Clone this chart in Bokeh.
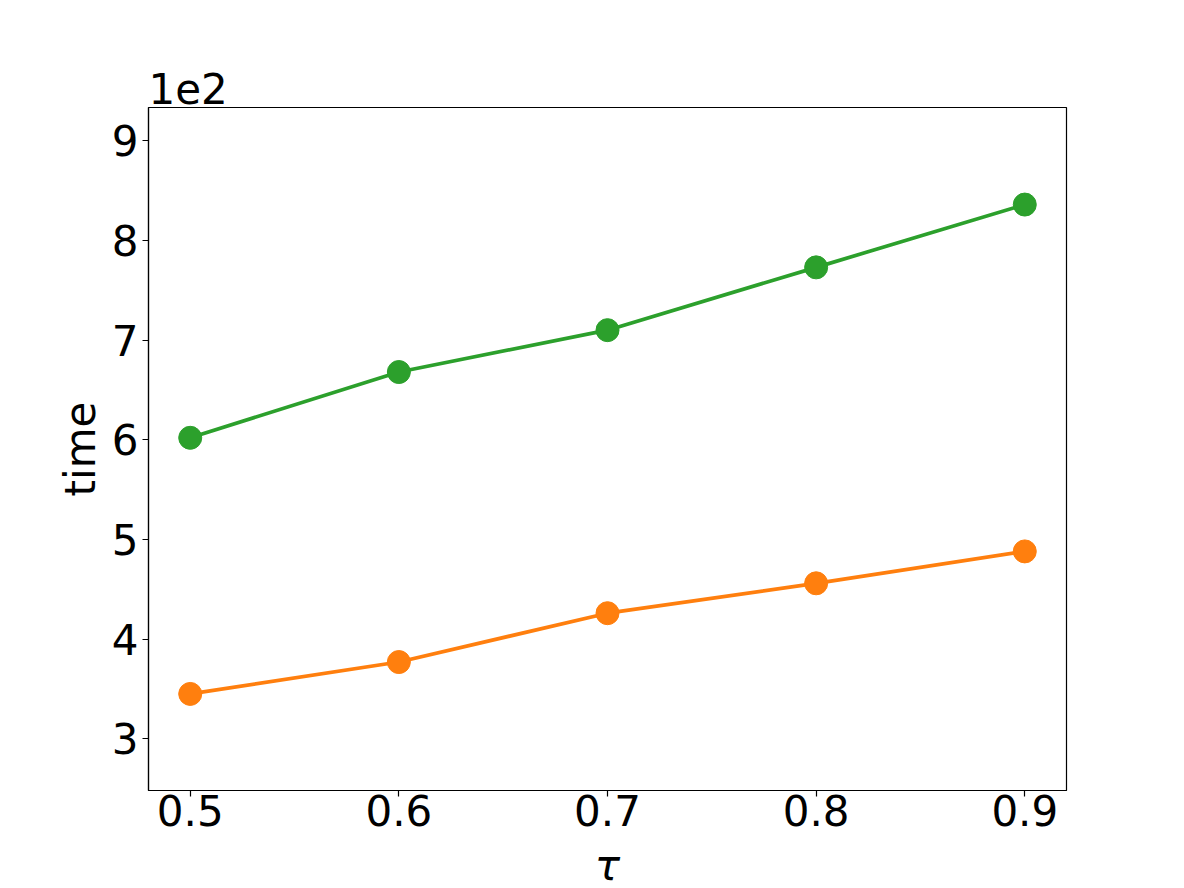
from bokeh.plotting import figure
from bokeh.models import Range1d, FixedTicker
from bokeh.embed import file_html
from bokeh.resources import INLINE

tau = [0.5, 0.6, 0.7, 0.8, 0.9]
time_green = [602, 668, 710, 773, 836]
time_orange = [345, 377, 426, 456, 488]
scale = 100.0
x_ticks = [0.5, 0.6, 0.7, 0.8, 0.9]
y_ticks = [3, 4, 5, 6, 7, 8, 9]

FONT = "DejaVu Sans"
FS = "42px"

p = figure(width=1184, height=888, output_backend="svg", toolbar_location=None,
           x_range=Range1d(0.48, 0.92), y_range=Range1d(2.481, 9.334),
           min_border_left=148, min_border_top=107, min_border_right=118, min_border_bottom=98,
           frame_width=918, frame_height=683)
p.xgrid.visible = False
p.ygrid.visible = False
p.outline_line_color = "black"
p.outline_line_width = 1.2
p.background_fill_color = "white"
p.border_fill_color = "white"

gy = [v / scale for v in time_green]
oy = [v / scale for v in time_orange]

p.line(tau, gy, line_color="#2ca02c", line_width=3.7)
p.scatter(tau, gy, size=23, fill_color="#2ca02c", line_color="#2ca02c")
p.line(tau, oy, line_color="#ff7f0e", line_width=3.7)
p.scatter(tau, oy, size=23, fill_color="#ff7f0e", line_color="#ff7f0e")

for ax in (p.xaxis[0], p.yaxis[0]):
    ax.major_label_text_font = FONT
    ax.major_label_text_font_size = FS
    ax.major_label_text_color = "black"
    ax.axis_label_text_font = FONT
    ax.axis_label_text_font_size = FS
    ax.axis_label_text_font_style = "normal"
    ax.axis_label_text_color = "black"
    ax.minor_tick_line_color = None
    ax.major_tick_out = 6
    ax.major_tick_in = 0
    ax.major_tick_line_color = "black"
    ax.axis_line_color = "black"
    ax.axis_line_width = 1.2
    ax.major_tick_line_width = 1.2

p.xaxis[0].ticker = FixedTicker(ticks=x_ticks)
p.yaxis[0].ticker = FixedTicker(ticks=y_ticks)
p.xaxis[0].major_label_overrides = {t: f"{t:.1f}" for t in x_ticks}
p.yaxis[0].major_label_overrides = {t: str(t) for t in y_ticks}
p.xaxis[0].axis_label = "τ"
p.xaxis[0].axis_label_text_font_style = "italic"
p.yaxis[0].axis_label = "time"
p.xaxis[0].major_label_standoff = -2
p.yaxis[0].major_label_standoff = 4
p.xaxis[0].axis_label_standoff = 12
p.yaxis[0].axis_label_standoff = 4

p.title.text = "1e2"
p.title.align = "left"
p.title.text_font = FONT
p.title.text_font_size = FS
p.title.text_font_style = "normal"
p.title.text_color = "black"
p.title.standoff = 8
p.title.offset = 0

open("out.html", "w").write(file_html(p, INLINE))
